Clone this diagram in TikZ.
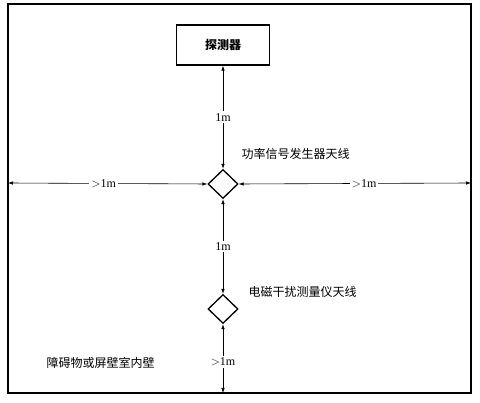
\documentclass[tikz,border=0pt]{standalone}
\usepackage{fontspec}
\setmainfont{Liberation Serif}
\newfontfamily\cjk{Noto Sans CJK SC}
\usetikzlibrary{shapes.geometric,arrows.meta,positioning}

\begin{document}
\begin{tikzpicture}[x=1pt,y=-1pt,font=\fontsize{12}{14}\selectfont,
  dim/.style={{Latex[length=5pt,width=3.5pt]}-{Latex[length=5pt,width=3.5pt]},line width=0.6pt},
  ant/.style={diamond,draw,line width=1.3pt,minimum width=30pt,minimum height=29pt,inner sep=0pt},
  lbl/.style={fill=white,inner sep=2pt}]
  \useasboundingbox (0,0) rectangle (480,403);

  % Paroi du local blinde
  \draw[line width=1.3pt] (8,4) rectangle (471,393);
  \coordinate (wallL) at (8,183);
  \coordinate (wallR) at (471,183);
  \coordinate (wallB) at (223,393);

  % Detecteur et antennes
  \node[draw,line width=1.3pt,minimum width=93pt,minimum height=40pt] (det) at (223,45) {\cjk\bfseries 探测器};
  \node[ant] (ant1) at (223,184) {};
  \node[ant] (ant2) at (223,309) {};

  % Cotes
  \draw[dim] (det.south) -- (ant1.north) node[lbl,midway] {1m};
  \draw[dim] (wallL) -- (ant1.west) node[lbl,pos=0.48] {$>$1m};
  \draw[dim] (ant1.east) -- (wallR) node[lbl,pos=0.54] {$>$1m};
  \draw[dim] (ant1.south) -- (ant2.north) node[lbl,midway] {1m};
  \draw[dim] (ant2.south) -- (wallB) node[lbl,pos=0.55] {$>$1m};

  % Legendes
  \node[anchor=west] (lgen) at (238,154) {\cjk 功率信号发生器天线};
  \node[anchor=west] (lmes) at (245,292) {\cjk 电磁干扰测量仪天线};
  \node[anchor=west] (lwall) at (43,363) {\cjk 障碍物或屏壁室内壁};
\end{tikzpicture}
\end{document}
